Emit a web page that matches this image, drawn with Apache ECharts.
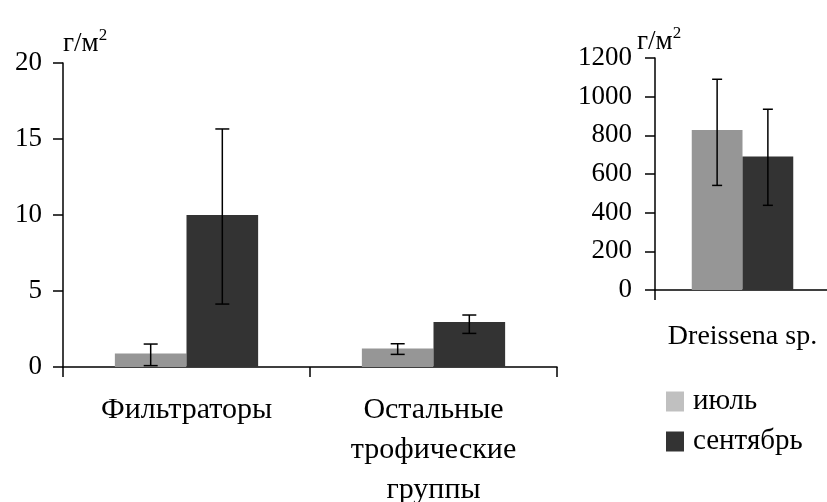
<!DOCTYPE html>
<html>
<head>
<meta charset="utf-8">
<script src="https://cdn.jsdelivr.net/npm/echarts@6/dist/echarts.min.js"></script>
<style>html,body{margin:0;padding:0;background:#fff}#c{width:827px;height:502px}</style>
</head>
<body>
<div id="c"></div>
<script>
var categoriesLeft = ['Фильтраторы', 'Остальные\nтрофические\nгруппы'];
var julyLeft = [0.88, 1.21];
var septLeft = [10.0, 2.96];
var julyLeftErr = [[0.09, 1.51], [0.83, 1.53]];
var septLeftErr = [[4.14, 15.66], [2.21, 3.42]];

var categoriesRight = ['Dreissena sp.'];
var julyRight = [828];
var septRight = [690];
var julyRightErr = [[541, 1090]];
var septRightErr = [[438, 935]];

var seriesNames = ['июль', 'сентябрь'];

var FONT = "'Liberation Serif', 'Times New Roman', serif";
var BAR_FRAC = 0.29;

function errData(err) {
  return err.map(function (e, i) { return [i, e[0], e[1]]; });
}
function errSeries(err, axisIdx, side, cap) {
  return {
    type: 'custom',
    xAxisIndex: axisIdx, yAxisIndex: axisIdx,
    data: errData(err),
    z: 10,
    silent: true,
    renderItem: function (params, api) {
      var cat = api.value(0);
      var lo = api.coord([cat, api.value(1)]);
      var hi = api.coord([cat, api.value(2)]);
      var bw = api.size([1, 0])[0] * BAR_FRAC;
      var x = lo[0] + side * bw / 2;
      var st = { stroke: '#000', lineWidth: 1.5 };
      return {
        type: 'group',
        children: [
          { type: 'line', shape: { x1: x, y1: lo[1], x2: x, y2: hi[1] }, style: st },
          { type: 'line', shape: { x1: x - cap / 2, y1: lo[1], x2: x + cap / 2, y2: lo[1] }, style: st },
          { type: 'line', shape: { x1: x - cap / 2, y1: hi[1], x2: x + cap / 2, y2: hi[1] }, style: st }
        ]
      };
    }
  };
}

var axisLineStyle = { show: true, lineStyle: { color: '#000', width: 1.5 } };
var tickStyle = { show: true, length: 10, lineStyle: { color: '#000', width: 1.5 } };
var unitRich = {
  a: { fontFamily: FONT, fontSize: 27, color: '#000', verticalAlign: 'bottom', lineHeight: 30 },
  s: { fontFamily: FONT, fontSize: 17, color: '#000', verticalAlign: 'top', lineHeight: 30 }
};
function plain(v) { return String(v); }

var chart = echarts.init(document.getElementById('c'));
chart.setOption({
  animation: false,
  backgroundColor: '#fff',
  textStyle: { fontFamily: FONT },
  legend: {
    orient: 'vertical',
    left: 661, top: 382,
    itemWidth: 18, itemHeight: 20, itemGap: 11,
    icon: 'rect',
    textStyle: { fontFamily: FONT, fontSize: 29, color: '#000', lineHeight: 22, padding: [0, 0, 0, 4] },
    data: [
      { name: 'июль', itemStyle: { color: '#c0c0c0' } },
      { name: 'сентябрь', itemStyle: { color: '#333333' } }
    ]
  },
  grid: [
    { left: 63, top: 63, width: 494, height: 304, outerBoundsMode: 'none', containLabel: false },
    { left: 655, top: 58, width: 175, height: 232, outerBoundsMode: 'none', containLabel: false }
  ],
  xAxis: [
    {
      type: 'category', gridIndex: 0, data: categoriesLeft,
      axisLine: axisLineStyle, axisTick: tickStyle,
      axisLabel: { fontFamily: FONT, fontSize: 30, color: '#000', margin: 23, lineHeight: 40, interval: 0 }
    },
    {
      type: 'category', gridIndex: 1, data: categoriesRight,
      axisLine: axisLineStyle, axisTick: tickStyle,
      axisLabel: { fontFamily: FONT, fontSize: 28, color: '#000', margin: 27, lineHeight: 40 }
    }
  ],
  yAxis: [
    {
      type: 'value', gridIndex: 0, min: 0, max: 20, interval: 5,
      axisLine: axisLineStyle, axisTick: tickStyle, splitLine: { show: false },
      axisLabel: { fontFamily: FONT, fontSize: 27, color: '#000', margin: 21, formatter: plain },
      name: '{a|г/м}{s|2}', nameLocation: 'end', nameGap: 6,
      nameTextStyle: { align: 'left', rich: unitRich }
    },
    {
      type: 'value', gridIndex: 1, min: 0, max: 1200, interval: 200,
      axisLine: axisLineStyle, axisTick: tickStyle, splitLine: { show: false },
      axisLabel: { fontFamily: FONT, fontSize: 27, color: '#000', margin: 23, formatter: plain },
      name: '{a|г/м}{s|2}', nameLocation: 'end', nameGap: 3,
      nameTextStyle: { align: 'left', padding: [0, 0, 0, -18], rich: unitRich }
    }
  ],
  series: [
    { name: seriesNames[0], type: 'bar', xAxisIndex: 0, yAxisIndex: 0, data: julyLeft, barWidth: '29%', barGap: '0%', itemStyle: { color: '#969696' } },
    { name: seriesNames[1], type: 'bar', xAxisIndex: 0, yAxisIndex: 0, data: septLeft, barWidth: '29%', barGap: '0%', itemStyle: { color: '#333333' } },
    { name: seriesNames[0], type: 'bar', xAxisIndex: 1, yAxisIndex: 1, data: julyRight, barWidth: '29%', barGap: '0%', itemStyle: { color: '#969696' } },
    { name: seriesNames[1], type: 'bar', xAxisIndex: 1, yAxisIndex: 1, data: septRight, barWidth: '29%', barGap: '0%', itemStyle: { color: '#333333' } },
    errSeries(julyLeftErr, 0, -1, 14),
    errSeries(septLeftErr, 0, 1, 14),
    errSeries(julyRightErr, 1, -1, 10),
    errSeries(septRightErr, 1, 1, 10)
  ]
});
</script>
</body>
</html>
